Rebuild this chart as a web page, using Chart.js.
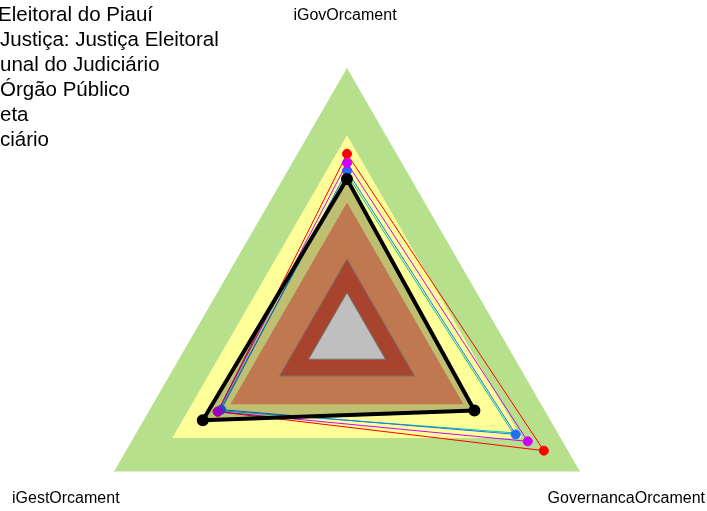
<!DOCTYPE html>
<html>
<head>
<meta charset="utf-8">
<script src="https://cdn.jsdelivr.net/npm/chart.js@4"></script>
<style>
  html, body { margin: 0; padding: 0; background: #fff; overflow: hidden; }
  #wrap { width: 707px; height: 511px; overflow: hidden; }
</style>
</head>
<body>
<div id="wrap"><canvas id="radar" width="707" height="606"></canvas></div>
<script>
// axes (clockwise from top)
const axisLabels = ['iGovOrcament', 'GovernancaOrcament', 'iGestOrcament'];

// legend entries, as much as is visible in the picture
const legendLabels = [
    'Eleitoral do Piauí',
    'Justiça: Justiça Eleitoral',
    'unal do Judiciário',
    'Órgão Público',
    'eta',
    'ciário'
];

// series values
const blackVals   = [0.587, 0.547, 0.619];
const blueVals    = [0.618, 0.724, 0.540];
const magentaVals = [0.647, 0.776, 0.555];
const redVals     = [0.681, 0.845, 0.555];
const cyanVals    = [0.605, 0.712, 0.548];

// background bands (outer limit of each band)
const bandLimits = [1.0, 0.75, 0.5, 0.29, 0.165];
const bandColors = ['#b6e08c', '#ffff99', '#ffa06b', '#e05a3c', '#ffffff'];

function lineSet(label, data, color, width, radius) {
    return {
        label: label,
        data: data,
        borderColor: color,
        backgroundColor: color,
        pointBackgroundColor: color,
        pointBorderColor: color,
        borderWidth: width,
        pointRadius: radius,
        fill: false
    };
}

// first dataset is drawn on top
const datasets = [
    {
        label: 'black',
        data: blackVals,
        borderColor: '#000000',
        backgroundColor: 'rgba(0,0,0,0.25)',
        pointBackgroundColor: '#000000',
        pointBorderColor: '#000000',
        borderWidth: 4,
        pointRadius: 4,
        fill: 'origin'
    },
    lineSet('magenta', magentaVals, '#cc00ff', 1, 4.5),
    lineSet('blue', blueVals, '#1e6fff', 1, 4.5),
    lineSet('red', redVals, '#ff0000', 1, 4.5),
    lineSet('cyan', cyanVals, '#00c8a0', 1, 0)
];

// smallest band on top
for (let i = bandLimits.length - 1; i >= 0; i--) {
    datasets.push({
        label: 'band' + i,
        data: axisLabels.map(() => bandLimits[i]),
        borderColor: i >= 3 ? '#a09a94' : 'rgba(0,0,0,0)',
        borderWidth: i >= 3 ? 1 : 0,
        backgroundColor: bandColors[i],
        pointRadius: 0,
        fill: 'origin'
    });
}

const textPlugin = {
    id: 'texts',
    afterDraw(chart) {
        const c = chart.ctx;
        const r = chart.scales.r;
        c.save();
        c.fillStyle = '#000';
        c.font = '16px "Liberation Sans", Arial, sans-serif';
        c.textBaseline = 'middle';
        c.textAlign = 'center';
        c.fillText(axisLabels[0], r.xCenter - 2, 16);
        c.textAlign = 'right';
        c.fillText(axisLabels[1], chart.width - 2, 499);
        c.textAlign = 'left';
        c.fillText(axisLabels[2], 12, 499);

        c.font = '20.5px "Liberation Sans", Arial, sans-serif';
        legendLabels.forEach((t, i) => {
            c.fillText(t, i === 0 ? -2 : 0, 15 + i * 25);
        });
        c.restore();
    }
};

new Chart(document.getElementById('radar'), {
    type: 'radar',
    data: { labels: axisLabels, datasets: datasets },
    options: {
        responsive: false,
        animation: false,
        layout: { padding: { left: 78, right: 91, top: 68, bottom: 0 } },
        elements: { line: { tension: 0, borderJoinStyle: 'round' } },
        plugins: { legend: { display: false }, tooltip: { enabled: false } },
        scales: {
            r: {
                min: 0,
                max: 1,
                z: 1,
                grid: { display: false },
                ticks: { display: false },
                pointLabels: { display: false },
                angleLines: { display: true, color: 'rgba(205,205,205,0.75)', lineWidth: 1 }
            }
        }
    },
    plugins: [textPlugin]
});
</script>
</body>
</html>
